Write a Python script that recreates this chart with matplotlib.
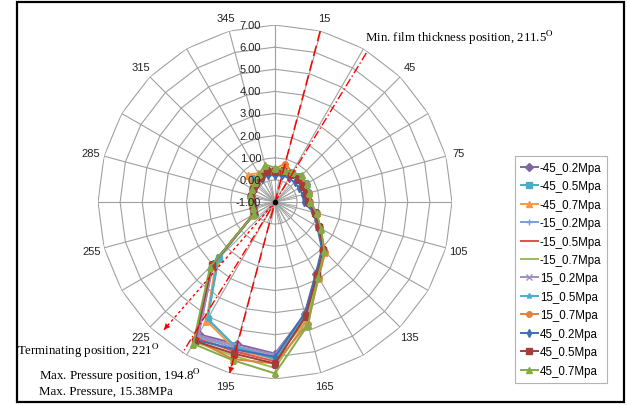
"""Radar chart of pressure distribution around the bearing, Excel-style look."""
import numpy as np
import matplotlib
matplotlib.use("Agg")
import matplotlib.pyplot as plt
from matplotlib.patches import Rectangle

plt.rcParams["font.family"] = ["Liberation Sans", "DejaVu Sans"]
plt.rcParams["mathtext.fontset"] = "stix"

# categories (degrees, clockwise from top) and labelled spokes
ANGLES = list(range(0, 360, 15))
ANGLE_LABELS = [15, 45, 75, 105, 135, 165, 195, 225, 255, 285, 315, 345]
RING_VALUES = [-1, 0, 1, 2, 3, 4, 5, 6, 7]

SERIES_NAMES = ["-45_0.2Mpa", "-45_0.5Mpa", "-45_0.7Mpa", "-15_0.2Mpa", "-15_0.5Mpa",
                "-15_0.7Mpa", "15_0.2Mpa", "15_0.5Mpa", "15_0.7Mpa", "45_0.2Mpa",
                "45_0.5Mpa", "45_0.7Mpa"]

# values at ANGLES (0, 15, ..., 345)
m45_02 = [0.35, 0.30, 0.40, 0.55, 0.60, 0.55, 0.55, 0.90, 1.30, 2.10, 2.75, 4.25,
          5.85, 5.65, 5.90, 2.95, 0.10, 0.05, 0.05, 0.10, 0.15, 0.20, 0.30, 0.40]
m45_05 = [0.40, 0.45, 0.50, 0.60, 0.60, 0.55, 0.55, 0.90, 1.30, 2.10, 2.80, 4.30,
          6.00, 5.80, 5.10, 2.60, 0.15, 0.00, 0.05, 0.10, 0.15, 0.45, 0.35, 0.40]
m45_07 = [0.50, 0.55, 0.55, 0.60, 0.60, 0.60, 0.60, 0.95, 1.35, 2.20, 2.95, 4.50,
          6.10, 5.90, 5.20, 2.75, 0.15, 0.05, 0.05, 0.10, 0.20, 0.75, 0.50, 0.45]
m15_02 = [0.30, 0.35, 0.45, 0.55, 0.55, 0.50, 0.50, 0.85, 1.25, 2.05, 2.75, 4.25,
          6.00, 5.85, 6.00, 3.00, 0.10, 0.05, 0.05, 0.10, 0.15, 0.20, 0.25, 0.35]
m15_05 = [0.40, 0.40, 0.50, 0.60, 0.55, 0.55, 0.55, 0.90, 1.30, 2.10, 2.80, 4.35,
          6.20, 6.00, 6.10, 3.05, 0.10, 0.05, 0.05, 0.10, 0.15, 0.20, 0.30, 0.45]
m15_07 = [0.45, 0.50, 0.55, 0.65, 0.60, 0.60, 0.60, 0.95, 1.35, 2.15, 2.85, 4.55,
          6.50, 6.20, 6.30, 3.10, 0.10, 0.05, 0.05, 0.10, 0.15, 0.25, 0.35, 0.60]
p15_02 = [0.35, 0.40, 0.45, 0.55, 0.55, 0.50, 0.50, 0.85, 1.25, 2.05, 2.75, 4.25,
          5.90, 5.75, 5.95, 2.95, 0.10, 0.05, 0.05, 0.10, 0.15, 0.20, 0.25, 0.35]
p15_05 = [0.40, 0.55, 0.50, 0.60, 0.55, 0.55, 0.55, 0.90, 1.30, 2.10, 2.80, 4.30,
          6.10, 5.80, 5.10, 2.65, 0.15, 0.05, 0.05, 0.10, 0.15, 0.30, 0.30, 0.40]
p15_07 = [0.50, 0.80, 0.55, 0.60, 0.60, 0.60, 0.60, 0.95, 1.35, 2.20, 2.95, 4.70,
          6.30, 6.35, 6.20, 3.00, 0.15, 0.05, 0.05, 0.10, 0.20, 0.30, 0.40, 0.50]
p45_02 = [0.20, 0.25, 0.25, 0.25, 0.25, 0.30, 0.30, 0.80, 1.20, 2.00, 2.70, 4.20,
          6.00, 5.90, 6.20, 3.05, 0.10, 0.05, 0.05, 0.10, 0.15, 0.15, 0.20, 0.25]
p45_05 = [0.40, 0.45, 0.45, 0.45, 0.45, 0.45, 0.50, 0.85, 1.30, 2.10, 2.80, 4.35,
          6.30, 6.10, 6.25, 3.05, 0.10, 0.05, 0.05, 0.10, 0.15, 0.20, 0.30, 0.45]
p45_07 = [0.55, 0.50, 0.55, 0.70, 0.65, 0.60, 0.60, 0.95, 1.40, 2.15, 2.90, 4.75,
          6.75, 6.40, 6.40, 3.15, 0.10, 0.05, 0.10, 0.15, 0.20, 0.30, 0.45, 0.75]

SERIES = [m45_02, m45_05, m45_07, m15_02, m15_05, m15_07,
          p15_02, p15_05, p15_07, p45_02, p45_05, p45_07]

COLORS = ["#8064A2", "#4BACC6", "#F79646", "#7A9FD4", "#E0504D", "#9BBB59",
          "#A48BC4", "#45B1C9", "#E0823A", "#3E6FB5", "#A33D3A", "#86AB46"]
MARKERS = ["D", "s", "^", "+", "None", "None", "x", "*", "o", "d", "s", "^"]

# marked positions (degrees)
MAX_P_ANGLE = 194.8
MIN_FILM_ANGLE = 211.5
TERM_ANGLE = 221.0

GRID = "#A0A0A0"
RED = "#FF0000"

fig = plt.figure(figsize=(6.27, 4.06), dpi=100)
ax = fig.add_axes([98 / 627, 26 / 406, 354 / 627, 354 / 406], projection="polar")
ax.set_theta_zero_location("N")
ax.set_theta_direction(-1)
ax.set_ylim(-1, 7)
ax.grid(False)
ax.set_xticks([])
ax.set_yticks([])
ax.spines["polar"].set_visible(False)

# polygon rings and spokes (straight segments, like Excel radar)
ring_t = np.deg2rad(ANGLES + [ANGLES[0]])
for v in RING_VALUES[1:]:
    ax.plot(ring_t, [v] * len(ring_t), color=GRID, lw=0.8, zorder=1)
for a in ANGLES:
    ax.plot([np.deg2rad(a)] * 2, [-1, 7], color=GRID, lw=0.8, zorder=1)
for a in range(0, 360, 10):
    ax.plot([np.deg2rad(a)] * 2, [-1, 0], color=GRID, lw=0.6, zorder=1)

for v in RING_VALUES:
    ax.annotate(f"{v:.2f}", xy=(0, v), xytext=(-10, 0), textcoords="offset points",
                ha="right", va="center", fontsize=8, color="#222222", zorder=5)
for a in ANGLE_LABELS:
    ax.text(np.deg2rad(a), 7.6, str(a), ha="center", va="center", fontsize=8,
            color="#222222")

handles = []
for name, vals, c, m in zip(SERIES_NAMES, SERIES, COLORS, MARKERS):
    t = np.deg2rad(ANGLES + [ANGLES[0]])
    (h,) = ax.plot(t, vals + [vals[0]], color=c, lw=1.4, marker=m, ms=4,
                   mew=1.0, label=name, zorder=3)
    handles.append(h)

ax.plot([0], [-1], "o", color="black", ms=3, zorder=6)

# marked position lines
th = np.deg2rad(MAX_P_ANGLE)
ax.plot([th - np.pi, th, th], [7.0, -1, 7.0], color=RED, lw=1.1,
        ls=(0, (7, 3)), zorder=4)
ax.annotate("", xy=(th, 7.0), xytext=(th, 6.4),
            arrowprops=dict(arrowstyle="-|>", color=RED, lw=0, mutation_scale=11,
                            shrinkA=0, shrinkB=0), zorder=4)

th = np.deg2rad(MIN_FILM_ANGLE)
ax.plot([th - np.pi, th, th], [6.9, -1, 7.4], color=RED, lw=1.0,
        ls=(0, (6, 2, 1, 2)), zorder=4)
ax.annotate("", xy=(th, 7.4), xytext=(th, 6.8),
            arrowprops=dict(arrowstyle="-|>", color=RED, lw=0, mutation_scale=11,
                            shrinkA=0, shrinkB=0), zorder=4)

th = np.deg2rad(TERM_ANGLE)
ax.plot([th, th], [-1, 6.65], color=RED, lw=1.0, ls=(0, (2, 2)), zorder=4)
ax.annotate("", xy=(th, 6.65), xytext=(th, 6.05),
            arrowprops=dict(arrowstyle="-|>", color=RED, lw=0, mutation_scale=11,
                            shrinkA=0, shrinkB=0), zorder=4)

serif = dict(family="Liberation Serif", fontsize=9.3, color="black", va="center")
fig.text(365 / 627, 1 - 38 / 406,
         f"Min. film thickness position, {MIN_FILM_ANGLE}" + r"$^{\mathrm{O}}$", **serif)
fig.text(17 / 627, 1 - 351 / 406,
         f"Terminating position, {TERM_ANGLE:.0f}" + r"$^{\mathrm{O}}$", **serif)
fig.text(39 / 627, 1 - 376 / 406,
         f"Max. Pressure position, {MAX_P_ANGLE}" + r"$^{\mathrm{O}}$", **serif)
fig.text(39 / 627, 1 - 392 / 406, "Max. Pressure, 15.38MPa", **serif)

leg = fig.legend(handles, SERIES_NAMES, loc="upper left",
                 bbox_to_anchor=(515 / 627, 1 - 157 / 406), fontsize=8.3,
                 frameon=True, fancybox=False, edgecolor="#A0A0A0",
                 handlelength=1.5, handletextpad=0.15, labelspacing=0.56,
                 borderpad=0.5, borderaxespad=0)
leg.get_frame().set_linewidth(0.8)

fig.add_artist(Rectangle((17 / 627, 3 / 406), 607 / 627, 400 / 406, fill=False,
                         lw=1.6, edgecolor="black", transform=fig.transFigure))

fig.savefig("out.png", dpi=100)
